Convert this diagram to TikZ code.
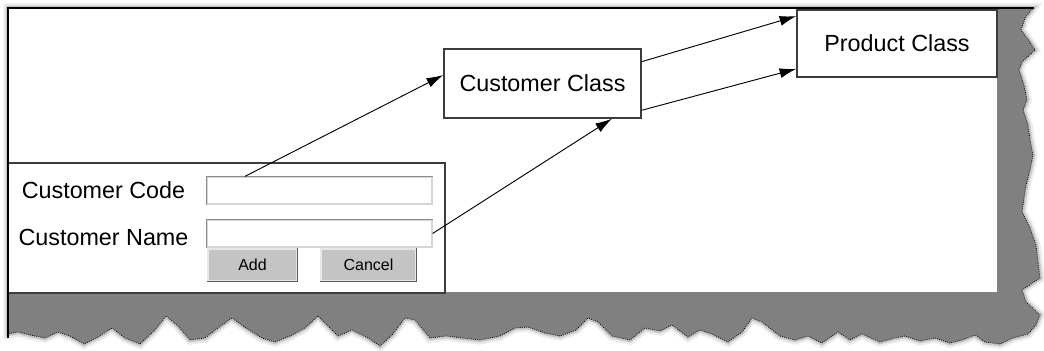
\documentclass[tikz,border=0pt]{standalone}
\usepackage{fontspec}
\setmainfont{Liberation Sans}
\usetikzlibrary{arrows.meta,calc}
\definecolor{panelgray}{RGB}{129,128,129}
\definecolor{boxedge}{RGB}{60,60,60}
\definecolor{fieldlite}{RGB}{214,214,214}
\definecolor{fielddark}{RGB}{140,140,140}
\definecolor{btnfill}{RGB}{196,196,196}
\definecolor{btnlite}{RGB}{232,232,232}
\definecolor{btndark}{RGB}{90,90,90}
\tikzset{
  clsbox/.style={draw=boxedge,line width=1.1pt,fill=white,inner sep=0pt,font=\fontsize{17.5}{20}\selectfont},
  formbox/.style={draw=boxedge,line width=1pt,fill=white,inner sep=0pt},
  field/.style={draw=fieldlite,line width=0.9pt,fill=white,minimum width=168.75pt,minimum height=20.25pt,inner sep=0pt},
  btn/.style={fill=btnfill,draw=btnlite,line width=0.8pt,minimum height=24pt,inner sep=0pt,font=\fontsize{12}{14}\selectfont},
  lbl/.style={inner sep=0pt,font=\fontsize{17.5}{20}\selectfont},
  arr/.style={-{Latex[length=12.5pt,width=7.5pt]},line width=0.7pt},
  torn/.style={densely dotted,line width=0.6pt},
}
\begin{document}
\begin{tikzpicture}[x=0.75pt,y=-0.75pt]
  \useasboundingbox (0,0) rectangle (1044,350);
  % grey ground with torn edge
  \path[save path=\tornbody] (8,8) -- (1033,8) -- (1025,18) -- (1021,30) -- (1030,42)
    -- (1035,50) -- (1022,62) -- (1019,70) -- (1024,85) -- (1027,100) -- (1023,110)
    -- (1028,125) -- (1030,140) -- (1033,155) -- (1030,170) -- (1026,185) -- (1024,198)
    -- (1022,212) -- (1030,228) -- (1036,245) -- (1038,262) -- (1040,278) -- (1022,290)
    -- (1026,302) -- (1040,315) -- (1036,325) -- (1028,334) -- (1013,338) -- (1000,344)
    -- (985,342) -- (975,335) -- (962,340) -- (950,343) -- (935,338) -- (920,341)
    -- (905,336) -- (895,338) -- (880,342) -- (862,334) -- (850,340) -- (838,332)
    -- (822,343) -- (808,336) -- (795,340) -- (780,336) -- (762,322) -- (752,318)
    -- (742,332) -- (728,342) -- (712,334) -- (700,330) -- (688,337) -- (672,325)
    -- (660,331) -- (645,328) -- (630,340) -- (612,336) -- (598,322) -- (588,318)
    -- (576,330) -- (560,336) -- (545,333) -- (528,327) -- (515,328) -- (500,336)
    -- (480,340) -- (462,338) -- (446,336) -- (430,338) -- (415,320) -- (405,318)
    -- (392,335) -- (380,346) -- (368,338) -- (352,330) -- (338,336) -- (318,316)
    -- (305,328) -- (290,336) -- (275,342) -- (262,338) -- (246,328) -- (232,318)
    -- (222,325) -- (205,338) -- (190,340) -- (178,326) -- (166,316) -- (155,330)
    -- (140,344) -- (125,338) -- (112,328) -- (98,337) -- (84,344) -- (70,336)
    -- (58,332) -- (45,338) -- (30,335) -- (18,332) -- (8,334) -- cycle;
  \draw[black!8,line width=7pt,use path=\tornbody];
  \draw[black!22,line width=3.5pt,use path=\tornbody];
  \fill[panelgray,use path=\tornbody];
  \draw[torn,use path=\tornbody];
  \fill[white] (8,8) rectangle (997,292);
  % form
  \node[formbox,minimum width=327.75pt,minimum height=97.5pt] (form) at (226.5,228) {};
  \draw[black,line width=1.5pt] (8,338) -- (8,8) -- (1034,8);
  % classes
  \node[clsbox,minimum width=150pt,minimum height=50.25pt] (product) at (897,43.5) {Product Class};
  \node[clsbox,minimum width=147.75pt,minimum height=51.75pt] (customer) at (542.5,83.5) {Customer Class};
  % fields and buttons
  \node[field] (codefield) at (319.5,190.5) {};
  \node[field] (namefield) at (319.5,233.5) {};
  \node[lbl] (codelbl) at (103.5,190) {Customer Code};
  \node[lbl] (namelbl) at (103.5,237) {Customer Name};
  \node[btn,minimum width=66.75pt] (addbtn) at (252.5,265) {Add};
  \node[btn,minimum width=71.25pt] (cancelbtn) at (368.5,265) {Cancel};
  \foreach \b in {addbtn,cancelbtn}
    \draw[btndark,line width=1.2pt] (\b.south west) -- (\b.south east) -- (\b.north east);
  \foreach \f in {codefield,namefield}
    \draw[fielddark,line width=1.2pt] (\f.south west) -- (\f.north west) -- (\f.north east);
  % connectors
  \draw[arr] ($(codefield.north west)!0.17!(codefield.north east)$)
    -- ($(customer.north west)!0.38!(customer.south west)$);
  \draw[arr] (namefield.east) -- ($(customer.south west)!0.85!(customer.south east)$);
  \draw[arr] ($(customer.north east)!0.19!(customer.south east)$)
    -- ($(product.north west)!0.1!(product.south west)$);
  \draw[arr] ($(customer.north east)!0.88!(customer.south east)$)
    -- ($(product.north west)!0.87!(product.south west)$);
\end{tikzpicture}
\end{document}
